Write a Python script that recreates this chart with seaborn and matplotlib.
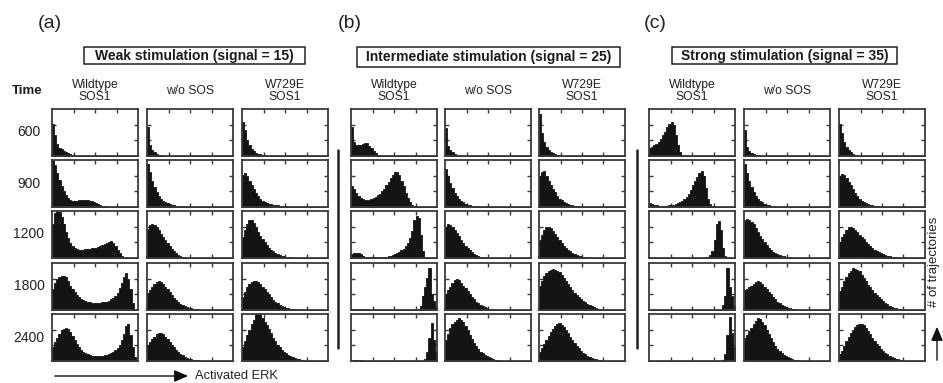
import matplotlib
matplotlib.use("Agg")
import matplotlib.pyplot as plt
import numpy as np
import pandas as pd
import seaborn as sns
from matplotlib.lines import Line2D
from matplotlib.patches import Rectangle, FancyArrowPatch

# ---- data: histogram bin heights (% of panel height), 40 bins over [0, 1]
# trailing empty bins are left out and padded with zeros below
N_BINS = 40
times = ["600", "900", "1200", "1800", "2400"]
variants = ["Wildtype\nSOS1", "w/o SOS", "W729E\nSOS1"]
stimuli = [
    "Weak stimulation (signal = 15)",
    "Intermediate stimulation (signal = 25)",
    "Strong stimulation (signal = 35)",
]
panel_tags = ["(a)", "(b)", "(c)"]

weak_wt = [
    [68, 45, 25, 18, 14, 11, 8, 6, 4, 2, 1],
    [100, 90, 72, 58, 45, 34, 25, 19, 15, 13, 13, 13, 14, 15, 15, 15, 14, 13, 12, 11, 9, 7, 5, 3, 2, 1],
    [72, 96, 100, 97, 88, 72, 56, 42, 32, 25, 21, 19, 18, 18, 18, 19, 19, 20, 21, 21, 22, 23, 25, 27, 29,
     31, 35, 36, 32, 25, 17, 10, 5, 2],
    [45, 58, 66, 71, 73, 73, 70, 62, 52, 45, 38, 32, 28, 24, 21, 19, 17, 16, 15, 14, 14, 14, 15, 16, 17,
     18, 20, 23, 26, 30, 36, 46, 58, 70, 78, 66, 45, 15],
    [30, 40, 50, 58, 65, 69, 70, 68, 62, 54, 44, 36, 29, 23, 19, 16, 14, 12, 11, 11, 10, 10, 11, 11, 12,
     13, 15, 17, 20, 23, 28, 34, 44, 58, 74, 78, 55, 30, 8],
]
weak_wo = [
    [62, 24, 13, 8, 5, 3, 2, 1],
    [92, 75, 55, 42, 32, 24, 17, 13, 10, 8, 6, 5, 4, 3, 3, 2, 2, 1, 1, 1],
    [62, 70, 72, 70, 66, 60, 52, 44, 38, 32, 26, 20, 14, 10, 6, 4, 3, 2, 1],
    [36, 42, 48, 55, 60, 62, 60, 56, 50, 44, 38, 32, 26, 21, 17, 13, 10, 8, 6, 5, 4, 3, 2, 2, 1, 1],
    [34, 40, 46, 52, 57, 60, 60, 57, 52, 47, 41, 35, 29, 24, 19, 15, 12, 9, 7, 5, 4, 3, 2, 2, 1, 1],
]
weak_w729e = [
    [72, 55, 35, 24, 15, 10, 7, 5, 4, 3, 2, 1, 1],
    [68, 72, 66, 56, 46, 38, 30, 23, 17, 13, 10, 8, 7, 6, 5, 4, 4, 3, 3, 2, 2, 1, 1, 1],
    [45, 60, 72, 80, 80, 74, 66, 56, 47, 40, 33, 27, 22, 17, 14, 11, 8, 6, 5, 4, 3, 2, 2, 1, 1],
    [28, 38, 48, 55, 60, 62, 62, 59, 55, 50, 45, 39, 33, 27, 22, 18, 14, 11, 8, 6, 5, 4, 3, 2, 2, 1, 1],
    [30, 42, 55, 66, 78, 88, 100, 100, 100, 92, 84, 76, 68, 60, 50, 42, 35, 29, 24, 20, 16, 13, 11, 9, 7,
     5, 4, 3, 2, 1],
]

mid_wt = [
    [62, 30, 24, 23, 24, 26, 28, 27, 22, 16, 11, 7, 3, 1],
    [45, 38, 30, 24, 19, 16, 14, 14, 15, 17, 19, 22, 25, 28, 33, 39, 46, 54, 61, 68, 74, 75, 68, 56, 44,
     30, 19, 10, 5, 2, 1],
    [8, 10, 11, 10, 8, 5, 3, 2, 2, 2, 2, 2, 2, 2, 2, 3, 3, 4, 5, 6, 8, 10, 13, 16, 20, 25, 32, 42, 58, 80,
     90, 85, 50, 15, 3],
    [2, 2, 3, 3, 3, 2, 2, 2, 1, 1, 1, 1, 1, 0, 0, 0, 0, 0, 0, 0, 0, 0, 0, 0, 0, 0, 0, 0, 0, 1, 1, 3, 8,
     30, 50, 68, 90, 35, 20, 6],
    [1, 2, 2, 2, 2, 1, 1, 1, 1, 1, 0, 0, 0, 0, 0, 0, 0, 0, 0, 0, 0, 0, 0, 0, 0, 0, 0, 0, 0, 0, 0, 0, 0, 0,
     5, 20, 50, 80, 45, 20],
]
mid_wo = [
    [60, 22, 12, 8, 5, 3, 2, 1, 1],
    [80, 66, 52, 40, 30, 23, 17, 13, 10, 7, 5, 4, 3, 3, 2, 2, 1, 1, 1],
    [66, 72, 70, 66, 60, 53, 46, 39, 32, 26, 21, 16, 12, 9, 6, 4, 3, 2, 1, 1],
    [34, 42, 50, 58, 63, 66, 63, 58, 52, 46, 40, 34, 28, 23, 18, 14, 11, 8, 6, 4, 3, 2, 2, 1, 1],
    [45, 58, 70, 78, 84, 88, 91, 88, 82, 74, 65, 56, 47, 39, 31, 25, 20, 16, 13, 10, 8, 6, 4, 3, 2, 1],
]
mid_w729e = [
    [90, 50, 30, 20, 13, 9, 6, 4, 3, 2, 1, 1],
    [66, 74, 76, 66, 56, 47, 39, 31, 24, 18, 14, 10, 8, 6, 5, 4, 3, 2, 2, 1, 1],
    [38, 50, 60, 66, 67, 64, 58, 51, 44, 38, 32, 26, 21, 17, 14, 11, 9, 7, 5, 4, 3, 2, 2, 1, 1],
    [52, 62, 72, 78, 82, 85, 87, 86, 84, 80, 74, 68, 61, 55, 48, 42, 37, 32, 27, 23, 19, 16, 13, 10, 8,
     6, 4, 3, 2, 1],
    [20, 27, 36, 45, 54, 62, 69, 74, 78, 80, 77, 72, 66, 59, 52, 45, 38, 32, 27, 22, 18, 14, 11, 9, 7, 5,
     4, 3, 2, 1],
]

strong_wt = [
    [18, 20, 23, 26, 30, 36, 44, 52, 62, 68, 72, 66, 45, 24, 8, 2],
    [8, 6, 5, 4, 3, 3, 3, 3, 3, 4, 4, 5, 6, 8, 10, 13, 17, 22, 28, 36, 46, 55, 63, 72, 76, 65, 40, 18, 7,
     3, 1],
    [1, 1, 1, 1, 1, 1, 1, 1, 1, 1, 1, 1, 1, 1, 1, 1, 1, 1, 1, 1, 1, 1, 1, 1, 1, 1, 2, 3, 6, 14, 38, 72,
     79, 60, 22, 5, 1],
    [0, 0, 0, 0, 0, 0, 0, 0, 0, 0, 0, 0, 0, 0, 0, 0, 0, 0, 0, 0, 0, 0, 0, 0, 0, 0, 0, 0, 0, 0, 0, 0, 0, 0,
     10, 30, 89, 50, 30, 8],
    [0, 0, 0, 0, 0, 0, 0, 0, 0, 0, 0, 0, 0, 0, 0, 0, 0, 0, 0, 0, 0, 0, 0, 0, 0, 0, 0, 0, 0, 0, 0, 0, 0, 0,
     3, 15, 55, 93, 60, 30],
]
strong_wo = [
    [55, 20, 10, 6, 4, 3, 2, 1, 1],
    [92, 72, 55, 42, 32, 24, 18, 13, 10, 7, 5, 4, 3, 2, 2, 1, 1, 1],
    [80, 84, 80, 76, 72, 64, 56, 47, 40, 33, 27, 22, 17, 13, 10, 8, 6, 5, 4, 3, 2, 2, 1, 1],
    [42, 45, 48, 52, 56, 60, 61, 59, 55, 50, 45, 39, 33, 28, 23, 18, 14, 11, 8, 6, 5, 4, 3, 2, 1, 1],
    [50, 56, 64, 71, 78, 85, 92, 90, 84, 76, 66, 57, 48, 40, 32, 26, 21, 17, 13, 10, 8, 6, 4, 3, 2, 1],
]
strong_w729e = [
    [68, 48, 30, 20, 13, 8, 5, 3, 2, 1, 1],
    [66, 70, 68, 62, 54, 46, 38, 30, 23, 17, 13, 10, 8, 6, 5, 4, 3, 2, 2, 1, 1],
    [34, 44, 52, 60, 65, 66, 64, 60, 55, 50, 45, 40, 35, 30, 26, 22, 18, 15, 12, 10, 8, 6, 5, 4, 3, 2, 2,
     1, 1],
    [40, 50, 62, 70, 78, 84, 89, 88, 86, 82, 75, 68, 61, 54, 48, 42, 37, 32, 27, 23, 19, 15, 12, 9, 7, 5,
     4, 3, 2, 1],
    [14, 22, 32, 42, 52, 60, 67, 72, 77, 79, 79, 76, 70, 64, 57, 50, 43, 37, 31, 26, 21, 17, 14, 11, 8, 6,
     5, 4, 3, 2, 1],
]

groups = [
    [weak_wt, weak_wo, weak_w729e],
    [mid_wt, mid_wo, mid_w729e],
    [strong_wt, strong_wo, strong_w729e],
]

# ---- layout (pixels on a 943 x 383 canvas)
W, H = 943, 383
col_left = [[52, 147, 242], [351, 445, 539], [649, 744, 839]]
row_top = [109, 160, 211, 263, 314]
AX_W, AX_H = 86, 47
tag_x = [50, 350, 655]
title_box = [(84, 305, 47, 64), (357, 620, 47, 67), (672, 897, 47, 64)]
sep_x = [338, 637]
INK = "#141414"
FRAME = "#3a3a3a"

sns.set_style("white")
plt.rcParams["font.family"] = ["Liberation Sans", "DejaVu Sans"]

fig = plt.figure(figsize=(W / 100, H / 100), dpi=100)


def fx(x):
    return x / W


def fy(y):
    return 1 - y / H


def pad(values):
    return list(values) + [0] * (N_BINS - len(values))


centers = (np.arange(N_BINS) + 0.5) / N_BINS

for g, group in enumerate(groups):
    for c, series in enumerate(group):
        x0 = col_left[g][c]
        for r, heights in enumerate(series):
            y0 = row_top[r]
            ax = fig.add_axes([fx(x0), fy(y0 + AX_H), AX_W / W, AX_H / H])
            df = pd.DataFrame({"erk": centers, "n": np.minimum(pad(heights), 100)})
            sns.histplot(
                data=df,
                x="erk",
                weights="n",
                bins=N_BINS,
                binrange=(0, 1),
                element="step",
                fill=True,
                color=INK,
                alpha=1,
                linewidth=0.6,
                ax=ax,
            )
            ax.set_xlim(0, 1)
            ax.set_ylim(0, 100)
            ax.set_xticks([0.25, 0.5, 0.75])
            ax.set_yticks([100 / 3, 200 / 3])
            ax.tick_params(direction="in", length=3, width=1, color=FRAME,
                           top=True, right=True, bottom=True, left=True,
                           labelbottom=False, labelleft=False)
            ax.set_xlabel("")
            ax.set_ylabel("")
            for sp in ax.spines.values():
                sp.set_color(FRAME)
                sp.set_linewidth(1.3)
        # column header
        fig.text(fx(x0 + AX_W / 2), fy(91), variants[c], ha="center", va="center",
                 fontsize=8.7, linespacing=0.95, color="#222222")

    # panel tag and boxed title
    fig.text(fx(tag_x[g]), fy(24), panel_tags[g], ha="center", va="center",
             fontsize=14, color="#222222")
    bx0, bx1, by0, by1 = title_box[g]
    fig.add_artist(Rectangle((fx(bx0), fy(by1)), (bx1 - bx0) / W, (by1 - by0) / H,
                             transform=fig.transFigure, fill=False, ec="#222222", lw=1.1))
    fig.text(fx((bx0 + bx1) / 2), fy((by0 + by1) / 2 + 0.5), stimuli[g], ha="center",
             va="center", fontsize=10, fontweight="bold", color="#1a1a1a")

# row labels
fig.text(fx(27), fy(91), "Time", ha="center", va="center", fontsize=9.5,
         fontweight="bold", color="#1a1a1a")
for r, t in enumerate(times):
    fig.text(fx(29), fy(row_top[r] + AX_H / 2), t, ha="center", va="center",
             fontsize=10, color="#222222")

# separators between panels
for xs in sep_x:
    fig.add_artist(Line2D([fx(xs), fx(xs)], [fy(150), fy(348)], transform=fig.transFigure,
                          color="#222222", lw=1.8))

# axis arrows
fig.add_artist(FancyArrowPatch(
    (fx(52), fy(376)), (fx(191), fy(376)), transform=fig.transFigure,
    arrowstyle="-|>,head_length=0.7,head_width=0.3", mutation_scale=12,
    color="#111111", lw=1))
fig.text(fx(195), fy(376), "Activated ERK", ha="left", va="center", fontsize=9.3,
         color="#222222")
fig.add_artist(FancyArrowPatch(
    (fx(937), fy(363)), (fx(937), fy(324)), transform=fig.transFigure,
    arrowstyle="-|>,head_length=0.7,head_width=0.3", mutation_scale=12,
    color="#111111", lw=1))
fig.text(fx(934), fy(262), "# of trajectories", ha="center", va="center", rotation=90,
         fontsize=9.5, color="#222222")

fig.savefig("out.png", dpi=100)
